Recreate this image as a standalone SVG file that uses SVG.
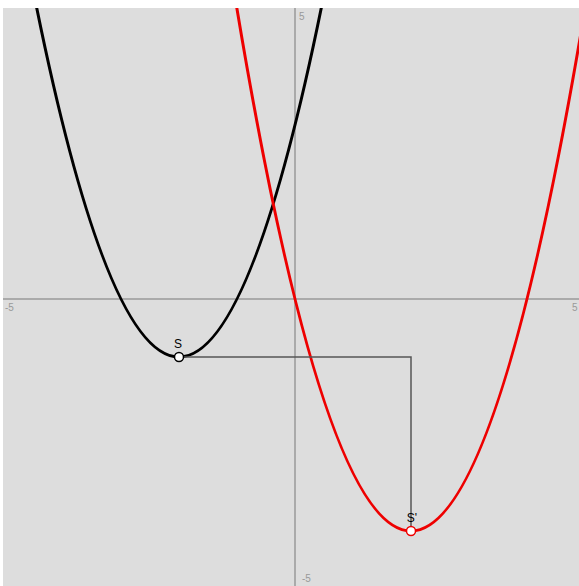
<svg xmlns="http://www.w3.org/2000/svg" width="579" height="586" viewBox="0 0 579 586">
<style>
.axis{stroke:#aaaaaa;stroke-width:2;fill:none}
.tick{font-family:"Liberation Sans",Arial,sans-serif;font-size:10px;fill:#999999}
.lbl{font-family:"Liberation Sans",Arial,sans-serif;font-size:12px;fill:#000000}
.curve{fill:none;stroke-width:3}
.pt{fill:#ffffff;stroke-width:1.5}
</style>
<defs>
<clipPath id="plot"><rect x="3" y="8" width="576" height="578"/></clipPath>
</defs>
<rect x="0" y="0" width="579" height="586" fill="#ffffff"/>
<rect x="3" y="8" width="576" height="578" fill="#dddddd"/>
<g id="axes">
<line class="axis" x1="3" y1="299" x2="579" y2="299"/>
<line class="axis" x1="295" y1="8" x2="295" y2="586"/>
<text class="tick" x="5" y="311">-5</text>
<text class="tick" x="572" y="311">5</text>
<text class="tick" x="299" y="20">5</text>
<text class="tick" x="302" y="582">-5</text>
</g>
<g id="curves" clip-path="url(#plot)">
<path id="black-parabola" class="curve" stroke="#000000" d="M28.2,-35.1 Q179,749.1 329.8,-35.1"/>
<path id="red-parabola" class="curve" stroke="#ee0000" d="M225.4,-62.9 Q411,1124.9 596.6,-62.9"/>
</g>
<g id="connectors">
<polyline points="179,357 411,357 411,531" fill="none" stroke="#555555" stroke-width="1.5"/>
</g>
<g id="node-S">
<circle class="pt" cx="179" cy="357" r="4.5" stroke="#000000"/>
<text class="lbl" x="178" y="348" text-anchor="middle">S</text>
</g>
<g id="node-S-prime">
<circle class="pt" cx="411" cy="531" r="4.5" stroke="#ee0000"/>
<text class="lbl" x="412" y="522" text-anchor="middle">S'</text>
</g>
</svg>
